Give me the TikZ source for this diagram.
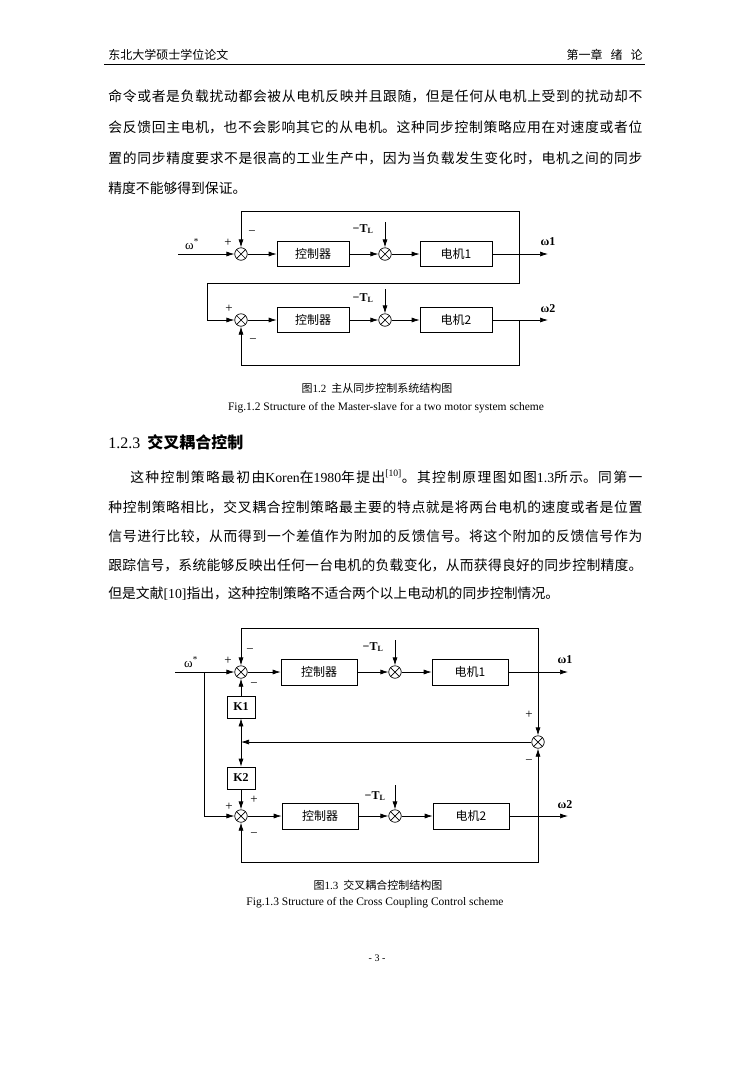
\documentclass[tikz,border=0pt]{standalone}
\usepackage{fontspec}
\setmainfont{Liberation Serif}
\newfontfamily\cjk{Noto Sans CJK SC}
\usetikzlibrary{arrows.meta}
\XeTeXlinebreaklocale "zh"
\XeTeXlinebreakskip=0pt plus 2pt
\newcommand\latn[1]{{\rmfamily #1}}
\newcommand\myparend{\par}

\begin{document}
\begin{tikzpicture}[x=1pt, y=-1pt, line width=0.7pt,
    txtline/.style={anchor=base west, inner sep=0pt, text width=534pt, align=justify,
      font=\cjk\fontsize{13.8}{16}\selectfont},
    justline/.style={txtline, execute at begin node={\parfillskip=0pt\relax}, execute at end node={\myparend}},
    sig/.style={-{Latex[length=8pt,width=5pt]}},
    sum/.style={circle, draw, minimum size=12.5pt, inner sep=0pt,
      path picture={\draw (path picture bounding box.north west) -- (path picture bounding box.south east)
        (path picture bounding box.north east) -- (path picture bounding box.south west);}},
    blk/.style={draw, minimum width=72pt, minimum height=25pt, inner sep=0pt, font=\cjk\fontsize{12}{12}\selectfont},
    blkb/.style={blk, minimum width=76pt, minimum height=26pt},
    kbox/.style={draw, minimum width=28pt, minimum height=22pt, inner sep=0pt, font=\bfseries\fontsize{12}{12}\selectfont},
    lbl/.style={inner sep=0pt, font=\fontsize{13}{13}\selectfont},
    wlbl/.style={inner sep=0pt, font=\bfseries\fontsize{12}{12}\selectfont},
    captxt/.style={inner sep=0pt, anchor=base, font=\fontsize{11.5}{12}\selectfont}]
    \useasboundingbox (0,0) rectangle (733,1069);

    % ヘッダ
    \node[anchor=base west, inner sep=0pt, font=\cjk\fontsize{12}{12}\selectfont] (hl) at (108,59) {东北大学硕士学位论文};
    \node[anchor=base east, inner sep=0pt, font=\cjk\fontsize{12}{12}\selectfont] (hr) at (643,59) {第一章\hspace{8pt}绪\hspace{8pt}论};
    \coordinate (hla) at (104,64);
    \coordinate (hlb) at (645,64);
    \draw[line width=0.8pt] (hla) -- (hlb);

    % 本文1
    \node[justline] (p1) at (108,101) {命令或者是负载扰动都会被从电机反映并且跟随，但是任何从电机上受到的扰动却不};
    \node[justline] (p2) at (108,132) {会反馈回主电机，也不会影响其它的从电机。这种同步控制策略应用在对速度或者位};
    \node[justline] (p3) at (108,163) {置的同步精度要求不是很高的工业生产中，因为当负载发生变化时，电机之间的同步};
    \node[txtline] (p4) at (108,193) {精度不能够得到保证。};

    % 図1.2 ノード
    \node[sum] (a1) at (241,254) {};
    \node[blk] (ac1) at (313,254) {控制器};
    \node[sum] (a2) at (385,254) {};
    \node[blk] (am1) at (456,254) {电机1};
    \node[sum] (a3) at (241,320) {};
    \node[blk] (ac2) at (313,320) {控制器};
    \node[sum] (a4) at (385,320) {};
    \node[blk] (am2) at (456,320) {电机2};
    \coordinate (ain) at (178,254);
    \coordinate (aout1) at (548,254);
    \coordinate (aout2) at (548,320);
    \coordinate (atl1) at (385,222);
    \coordinate (atl2) at (385,289);
    \coordinate (ab1) at (519,254);
    \coordinate (ab2) at (519,320);
    \coordinate (atop) at (241,211);
    \coordinate (amid) at (207,283);
    \coordinate (abot) at (241,365);

    % 図1.2 ラベル
    \node[lbl] (aw) at (192,244) {ω\textsuperscript{*}};
    \node[lbl] (ap1) at (228,243) {+};
    \node[lbl] (an1) at (252,233) {−};
    \node[lbl] (ap3) at (229,309) {+};
    \node[lbl] (an3) at (253,341) {−};
    \node[wlbl] (at1) at (363,229) {−T\textsubscript{L}};
    \node[wlbl] (at2) at (363,298) {−T\textsubscript{L}};
    \node[wlbl] (aw1) at (548,242) {ω1};
    \node[wlbl] (aw2) at (548,309) {ω2};

    % 図1.2 エッジ
    \draw[sig] (ain) -- (a1);
    \draw[sig] (a1) -- (ac1);
    \draw[sig] (ac1) -- (a2);
    \draw[sig] (a2) -- (am1);
    \draw[sig] (am1) -- (aout1);
    \draw[sig] (atl1) -- (a2);
    \draw[sig] (ab1) |- (atop) -- (a1);
    \draw[sig] (ab1) |- (amid) |- (a3);
    \draw[sig] (a3) -- (ac2);
    \draw[sig] (ac2) -- (a4);
    \draw[sig] (a4) -- (am2);
    \draw[sig] (am2) -- (aout2);
    \draw[sig] (atl2) -- (a4);
    \draw[sig] (ab2) |- (abot) -- (a3);

    % 図1.2 キャプション
    \node[captxt, font=\cjk\fontsize{11}{12}\selectfont] (acap) at (377,392) {图\latn{1.2}\hspace{5pt}主从同步控制系统结构图};
    \node[captxt] (acapen) at (386,410) {Fig.1.2 Structure of the Master-slave for a two motor system scheme};

    % 見出しと本文2
    \node[anchor=base west, inner sep=0pt, font=\fontsize{16}{16}\selectfont] (sec) at (108,448) {1.2.3\hspace{7pt}{\cjk\bfseries 交叉耦合控制}};
    \node[justline, text width=512pt] (q1) at (130,482) {这种控制策略最初由\latn{Koren}在\latn{1980}年提出\latn{\textsuperscript{[10]}}。其控制原理图如图\latn{1.3}所示。同第一};
    \node[justline] (q2) at (108,512) {种控制策略相比，交叉耦合控制策略最主要的特点就是将两台电机的速度或者是位置};
    \node[justline] (q3) at (108,541) {信号进行比较，从而得到一个差值作为附加的反馈信号。将这个附加的反馈信号作为};
    \node[justline] (q4) at (108,570) {跟踪信号，系统能够反映出任何一台电机的负载变化，从而获得良好的同步控制精度。};
    \node[txtline] (q5) at (108,598) {但是文献\latn{[10]}指出，这种控制策略不适合两个以上电动机的同步控制情况。};

    % 図1.3 ノード
    \node[sum] (b1) at (241,672) {};
    \node[blkb] (bc1) at (319,672) {控制器};
    \node[sum] (b2) at (395,672) {};
    \node[blkb] (bm1) at (470,672) {电机1};
    \node[kbox] (bk1) at (241,707) {K1};
    \node[sum] (b5) at (538,742) {};
    \node[kbox] (bk2) at (241,778) {K2};
    \node[sum] (b3) at (241,816) {};
    \node[blkb] (bc2) at (320,816) {控制器};
    \node[sum] (b4) at (395,816) {};
    \node[blkb] (bm2) at (471,816) {电机2};
    \coordinate (bin) at (175,672);
    \coordinate (bsp) at (204,672);
    \coordinate (bout1) at (568,672);
    \coordinate (bout2) at (568,816);
    \coordinate (btl1) at (395,640);
    \coordinate (btl2) at (395,785);
    \coordinate (bbr1) at (538,672);
    \coordinate (bbr2) at (538,816);
    \coordinate (btop) at (241,628);
    \coordinate (bbot) at (241,862);
    \coordinate (bj) at (241,742);

    % 図1.3 ラベル
    \node[lbl] (bw) at (191,662) {ω\textsuperscript{*}};
    \node[lbl] (bp1) at (228,661) {+};
    \node[lbl] (bn1) at (250,651) {−};
    \node[lbl] (bn2) at (254,685) {−};
    \node[lbl] (bp5) at (529,715) {+};
    \node[lbl] (bn5) at (529,762) {−};
    \node[lbl] (bp3a) at (254,800) {+};
    \node[lbl] (bp3b) at (229,807) {+};
    \node[lbl] (bn3) at (254,835) {−};
    \node[wlbl] (bt1) at (373,647) {−T\textsubscript{L}};
    \node[wlbl] (bt2) at (375,796) {−T\textsubscript{L}};
    \node[wlbl] (bw1) at (565,660) {ω1};
    \node[wlbl] (bw2) at (565,805) {ω2};

    % 図1.3 エッジ
    \draw[sig] (bin) -- (b1);
    \draw[sig] (bsp) |- (b3);
    \draw[sig] (b1) -- (bc1);
    \draw[sig] (bc1) -- (b2);
    \draw[sig] (b2) -- (bm1);
    \draw[sig] (bm1) -- (bout1);
    \draw[sig] (btl1) -- (b2);
    \draw[sig] (bbr1) |- (btop) -- (b1);
    \draw[sig] (bbr1) -- (b5);
    \draw[sig] (bk1) -- (b1);
    \draw[sig] (b5) -- (bj);
    \draw[sig] (bj) -- (bk1);
    \draw[sig] (bj) -- (bk2);
    \draw[sig] (bk2) -- (b3);
    \draw[sig] (b3) -- (bc2);
    \draw[sig] (bc2) -- (b4);
    \draw[sig] (b4) -- (bm2);
    \draw[sig] (bm2) -- (bout2);
    \draw[sig] (btl2) -- (b4);
    \draw[sig] (bbr2) -- (b5);
    \draw[sig] (bbr2) |- (bbot) -- (b3);

    % 図1.3 キャプション
    \node[captxt, font=\cjk\fontsize{11}{12}\selectfont] (bcap) at (378,889) {图\latn{1.3}\hspace{5pt}交叉耦合控制结构图};
    \node[captxt] (bcapen) at (375,905) {Fig.1.3 Structure of the Cross Coupling Control scheme};

    % ページ番号
    \node[captxt, font=\fontsize{10}{10}\selectfont] (pg) at (377,961) {- 3 -};
\end{tikzpicture}
\end{document}
